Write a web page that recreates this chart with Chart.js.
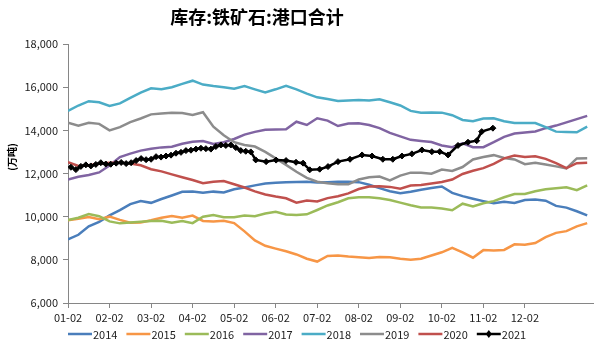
<!DOCTYPE html>
<html>
<head>
<meta charset="utf-8">
<script src="https://cdn.jsdelivr.net/npm/chart.js@4/dist/chart.umd.min.js"></script>
<style>
  html, body { margin: 0; padding: 0; background: #fff; }
  #wrap { width: 600px; height: 347px; }
</style>
</head>
<body>
<div id="wrap"><canvas id="chart" width="600" height="347"></canvas></div>
<script>
// ── Data (万吨) ──
const titleText = '库存:铁矿石:港口合计';
const yTitle = '(万吨)';
const monthLabels = ['01-02', '02-02', '03-02', '04-02', '05-02', '06-02',
                     '07-02', '08-02', '09-02', '10-02', '11-02', '12-02'];
const years = ['2014', '2015', '2016', '2017', '2018', '2019', '2020', '2021'];

// weekly readings, one every quarter month starting at 01-02
const s2014 = [8950, 9160, 9550, 9760, 10060, 10300, 10580, 10720, 10640, 10820,
  10980, 11150, 11170, 11110, 11160, 11120, 11270, 11350, 11450, 11540,
  11570, 11600, 11610, 11620, 11580, 11600, 11620, 11620, 11600, 11480,
  11320, 11180, 11090, 11150, 11250, 11330, 11400, 11100, 10950, 10830,
  10720, 10620, 10690, 10630, 10770, 10790, 10740, 10500, 10420, 10250, 10060];
const s2015 = [9830, 9900, 9980, 9880, 10000, 9850, 9720, 9730, 9830, 9950,
  10030, 9950, 10050, 9800, 9780, 9810, 9700, 9320, 8900, 8650,
  8520, 8400, 8250, 8050, 7920, 8180, 8200, 8150, 8120, 8080,
  8130, 8120, 8050, 8000, 8050, 8200, 8350, 8560, 8350, 8100,
  8450, 8430, 8460, 8720, 8700, 8780, 9050, 9250, 9330, 9550, 9700];
const s2016 = [9850, 9950, 10120, 10020, 9780, 9690, 9730, 9760, 9800, 9810,
  9720, 9800, 9700, 10000, 10080, 9970, 9970, 10050, 10020, 10150,
  10230, 10100, 10080, 10110, 10310, 10520, 10670, 10850, 10900, 10900,
  10850, 10770, 10650, 10530, 10430, 10430, 10380, 10300, 10600, 10470,
  10620, 10720, 10900, 11050, 11050, 11180, 11270, 11320, 11360, 11230, 11450];
const s2017 = [11720, 11850, 11930, 12050, 12370, 12760, 12920, 13060, 13150, 13210,
  13240, 13380, 13470, 13500, 13370, 13450, 13600, 13800, 13930, 14030,
  14040, 14050, 14400, 14250, 14560, 14450, 14200, 14320, 14330, 14250,
  14100, 13880, 13720, 13560, 13510, 13460, 13300, 13220, 13400, 13220,
  13220, 13450, 13700, 13850, 13900, 13950, 14100, 14220, 14370, 14520, 14670];
const s2018 = [14900, 15150, 15350, 15300, 15130, 15250, 15500, 15750, 15950, 15900,
  16000, 16150, 16300, 16120, 16050, 16000, 15930, 16050, 15900, 15760,
  15900, 16060, 15900, 15700, 15530, 15450, 15360, 15380, 15400, 15380,
  15440, 15300, 15150, 14900, 14820, 14830, 14820, 14700, 14480, 14420,
  14550, 14560, 14420, 14340, 14340, 14340, 14150, 13940, 13920, 13910, 14170];
const s2019 = [14350, 14220, 14350, 14300, 14000, 14150, 14380, 14550, 14740, 14780,
  14820, 14800, 14710, 14840, 14170, 13770, 13450, 13320, 13250, 13000,
  12700, 12400, 12080, 11800, 11620, 11550, 11500, 11500, 11720, 11830,
  11860, 11680, 11900, 12040, 12030, 11990, 12180, 12120, 12300, 12650,
  12760, 12850, 12720, 12650, 12430, 12500, 12420, 12330, 12240, 12700, 12710];
const s2020 = [12530, 12350, 12380, 12450, 12500, 12500, 12460, 12380, 12200, 12100,
  11960, 11830, 11700, 11550, 11620, 11650, 11500, 11350, 11170, 11030,
  10930, 10850, 10650, 10750, 10700, 10860, 10950, 11080, 11280, 11400,
  11410, 11380, 11300, 11440, 11470, 11540, 11610, 11720, 11980, 12130,
  12250, 12450, 12700, 12830, 12760, 12800, 12680, 12480, 12250, 12480, 12500];

// 2021 is sampled more densely early in the year (positions in months from 01-02)
const pos2021 = [0.07, 0.19, 0.31, 0.43, 0.55, 0.67, 0.79, 0.91, 1.03, 1.16,
  1.28, 1.40, 1.52, 1.64, 1.76, 1.88, 2.00, 2.12, 2.24, 2.36,
  2.48, 2.60, 2.72, 2.84, 2.96, 3.08, 3.20, 3.32, 3.44, 3.56,
  3.68, 3.80, 3.92, 4.04, 4.16, 4.28, 4.40, 4.52, 4.77, 5.01,
  5.25, 5.49, 5.66, 5.82, 6.06, 6.26, 6.50, 6.79, 7.08, 7.32,
  7.58, 7.82, 8.04, 8.28, 8.52, 8.76, 8.95, 9.15, 9.39, 9.63,
  9.84, 9.96, 10.23];
const s2021 = [12290, 12180, 12330, 12400, 12350, 12420, 12500, 12440, 12430, 12480,
  12510, 12460, 12500, 12600, 12690, 12640, 12660, 12780, 12760, 12810,
  12850, 12940, 12980, 13060, 13080, 13130, 13170, 13150, 13130, 13250,
  13320, 13300, 13320, 13200, 13060, 13030, 13000, 12630, 12550, 12620,
  12600, 12520, 12480, 12170, 12200, 12320, 12550, 12660, 12860, 12810,
  12660, 12660, 12810, 12910, 13090, 13010, 13010, 12860, 13300, 13450,
  13520, 13940, 14100];

const colors = ['#4a7ebb', '#f79646', '#9bbb59', '#8064a2', '#4bacc6', '#8c8c8c', '#c0504d', '#000000'];
const seriesList = [s2014, s2015, s2016, s2017, s2018, s2019, s2020];

const FONT = '"Noto Sans CJK SC", "Noto Sans", sans-serif';

// weekly positions (quarter months)
const toPoints = arr => arr.map((v, i) => ({ x: i * 0.25, y: v }));

const datasets = seriesList.map((arr, i) => ({
  label: years[i],
  data: toPoints(arr),
  borderColor: colors[i],
  backgroundColor: colors[i],
  borderWidth: 2.5,
  pointRadius: 0,
  tension: 0,
  order: 8 - i
}));
datasets.push({
  label: years[7],
  data: s2021.map((v, i) => ({ x: pos2021[i], y: v })),
  borderColor: '#000',
  backgroundColor: '#000',
  borderWidth: 2.5,
  pointRadius: 3,
  pointStyle: 'rectRot',
  pointBorderWidth: 1,
  tension: 0,
  order: 0
});

// ── Title, axis title & legend ──
const decor = {
  id: 'decor',
  afterDraw(chart) {
    const ctx = chart.ctx;
    ctx.save();
    ctx.fillStyle = '#000';
    ctx.textBaseline = 'middle';
    ctx.textAlign = 'center';
    ctx.font = 'bold 18px ' + FONT;
    ctx.fillText(titleText, 257, 17);

    ctx.save();
    ctx.translate(12, 157);
    ctx.rotate(-Math.PI / 2);
    ctx.font = 'bold 10px ' + FONT;
    ctx.fillText(yTitle, 0, 0);
    ctx.restore();

    // legend
    ctx.textAlign = 'left';
    ctx.font = '11px ' + FONT;
    const ly = 334;
    chart.data.datasets.forEach((ds, i) => {
      const x0 = 68 + i * 58.4;
      ctx.strokeStyle = ds.borderColor;
      ctx.lineWidth = 2.5;
      ctx.beginPath();
      ctx.moveTo(x0, ly);
      ctx.lineTo(x0 + 24, ly);
      ctx.stroke();
      if (ds.pointRadius) {
        ctx.fillStyle = '#000';
        ctx.beginPath();
        ctx.moveTo(x0 + 12, ly - 4);
        ctx.lineTo(x0 + 15, ly);
        ctx.lineTo(x0 + 12, ly + 4);
        ctx.lineTo(x0 + 9, ly);
        ctx.closePath();
        ctx.fill();
      }
      ctx.fillStyle = '#222';
      ctx.fillText(ds.label, x0 + 25, ly + 1);
    });
    ctx.restore();
  }
};

const axisColor = '#868686';

new Chart(document.getElementById('chart'), {
  type: 'line',
  data: { datasets },
  options: {
    responsive: false,
    animation: false,
    devicePixelRatio: 1,
    layout: { padding: { top: 44, right: 7, bottom: 24, left: 0 } },
    plugins: {
      legend: { display: false },
      title: { display: false },
      tooltip: { enabled: false }
    },
    scales: {
      x: {
        type: 'linear',
        min: 0,
        max: 12.64,
        afterBuildTicks: s => { s.ticks = monthLabels.map((_, i) => ({ value: i })); },
        afterFit: s => { s.height = 20; },
        ticks: {
          autoSkip: false,
          maxRotation: 0,
          padding: 3,
          color: '#222',
          font: { family: FONT, size: 11 },
          callback: (v, i) => monthLabels[i]
        },
        grid: { drawOnChartArea: false, tickLength: 5, color: axisColor },
        border: { color: axisColor }
      },
      y: {
        min: 6000,
        max: 18000,
        afterFit: s => { s.width = 68; },
        ticks: {
          stepSize: 2000,
          padding: 5,
          color: '#222',
          font: { family: FONT, size: 11 },
          callback: v => v.toLocaleString('en-US')
        },
        grid: { drawOnChartArea: false, tickLength: 5, color: axisColor },
        border: { color: axisColor }
      }
    }
  },
  plugins: [decor]
});
</script>
</body>
</html>
